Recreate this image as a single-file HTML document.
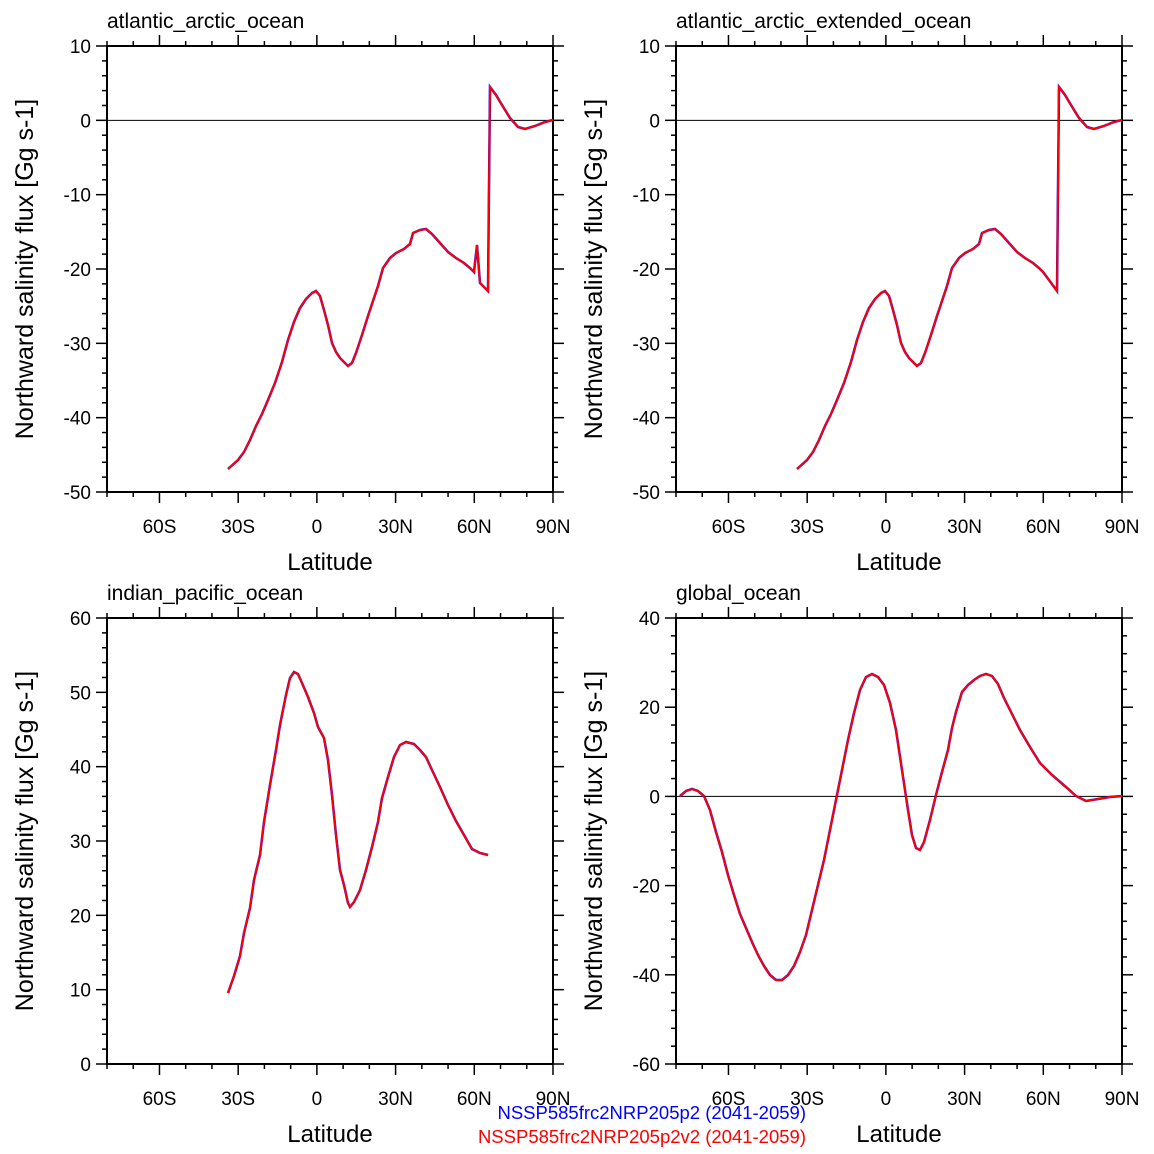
<!DOCTYPE html><html><head><style>body{margin:0;background:#fff}svg{display:block}text{font-family:"Liberation Sans",Arial,sans-serif}</style></head><body>
<svg id="s" width="1154" height="1154" xmlns="http://www.w3.org/2000/svg"></svg>
<script>
const s=document.getElementById('s');let h='';
function panel(ox,oy,title,ymin,ymax,ymaj,ymin_,zero,pts){
 const L=ox,R=ox+446,T=oy,B=oy+446;
 const X=l=>L+(l+80)*446/170, Y=v=>B-(v-ymin)*446/(ymax-ymin);
 h+=`<rect x="${L}" y="${T}" width="446" height="446" fill="none" stroke="#000" stroke-width="2"/>`;
 for(let l=-80;l<=90;l+=10){const x=X(l),mj=l%30==0;const t=mj?11:5;
  h+=`<line x1="${x}" y1="${B}" x2="${x}" y2="${B+t}" stroke="#000" stroke-width="1.5"/><line x1="${x}" y1="${T}" x2="${x}" y2="${T-t}" stroke="#000" stroke-width="1.5"/>`;
  if(mj){const lab=l==0?'0':(l<0?(-l)+'S':l+'N');h+=`<text x="${x}" y="${B+41}" font-size="19" text-anchor="middle">${lab}</text>`;}}
 for(let v=ymin;v<=ymax+1e-6;v+=ymin_){const y=Y(v),mj=Math.abs(((v-ymin)%ymaj))<1e-6;const t=mj?11:5;
  h+=`<line x1="${L}" y1="${y}" x2="${L-t}" y2="${y}" stroke="#000" stroke-width="1.5"/><line x1="${R}" y1="${y}" x2="${R+t}" y2="${y}" stroke="#000" stroke-width="1.5"/>`;
  if(mj)h+=`<text x="${L-16}" y="${y+7}" font-size="19" text-anchor="end">${v}</text>`;}
 if(zero)h+=`<line x1="${L}" y1="${Y(0)}" x2="${R}" y2="${Y(0)}" stroke="#000" stroke-width="1"/>`;
 h+=`<text x="${L}" y="${T-18}" font-size="21">${title}</text>`;
 h+=`<text x="${L+223}" y="${B+78}" font-size="24" text-anchor="middle">Latitude</text>`;
 h+=`<text transform="translate(${L-74},${T+223}) rotate(-90)" font-size="25" text-anchor="middle">Northward salinity flux [Gg s-1]</text>`;
 const p=pts.map(q=>(q[0]+ox-107)+','+(q[1]+oy-46)).join(' ');
 h+=`<polyline points="${p}" fill="none" stroke="#00f" stroke-width="2.5"/><polyline points="${p}" fill="none" stroke="#f00" stroke-width="2"/>`;
}
const a1=[[228,469],[238,460],[244,452],[250,440],[256,426],[262,414],[268,400],[275,383],[282,362],[288,340],[294,322],[300,308],[306,299],[312,293],[316,291],[320,296],[324,310],[328,325],[332,343],[336,352],[340,358],[344,362],[348,366],[352,363],[356,353],[362,335],[368,316],[374,298],[378,286],[383,268],[390,258],[396,253],[404,249],[410,244],[413,233],[420,230],[426,229],[432,234],[440,243],[448,252],[456,258],[464,263],[470,268],[474,272]];
const tail=[[488,291],[490,87],[496,95],[502,105],[510,118],[518,127],[525,129],[535,126],[545,122],[553,120]];
panel(107,46,'atlantic_arctic_ocean',-50,10,10,2,true,a1.concat([[477,245],[480,283]],tail));
panel(676,46,'atlantic_arctic_extended_ocean',-50,10,10,2,true,a1.concat([[480,280]],tail));
const b1=[[228,993],[234,976],[240,956],[244,933],[250,908],[254,880],[260,855],[264,822],[270,785],[276,750],[280,725],[286,695],[290,678],[294,672],[298,674],[302,683],[308,697],[314,713],[318,727],[324,738],[328,760],[332,795],[336,835],[340,870],[344,885],[348,903],[350,907],[354,902],[360,890],[366,870],[372,847],[378,822],[382,798],[388,777],[394,757],[400,745],[406,742],[414,744],[420,750],[426,757],[432,770],[440,787],[448,805],[456,821],[464,835],[472,849],[480,853],[488,855]].map(q=>[q[0],q[1]-572]);
panel(107,618,'indian_pacific_ocean',0,60,10,2,false,b1);
const b2=[[680,796],[686,791],[692,789],[698,791],[704,796],[710,810],[716,832],[722,852],[728,875],[734,895],[740,914],[746,928],[752,942],[758,955],[764,966],[770,975],[776,980],[782,980],[788,975],[794,966],[800,952],[806,935],[812,910],[818,885],[824,860],[830,830],[836,800],[842,770],[848,740],[854,713],[860,690],[866,677],[872,674],[878,677],[884,685],[890,703],[896,730],[902,770],[908,810],[912,835],[916,848],[920,850],[924,842],[930,820],[936,795],[942,772],[948,750],[952,728],[956,712],[962,692],[968,685],[974,680],[980,676],[986,674],[992,676],[998,684],[1004,698],[1012,714],[1020,730],[1030,747],[1040,763],[1052,775],[1066,787],[1076,796],[1086,801],[1098,799],[1110,797],[1122,796]].map(q=>[q[0]-569,q[1]-572]);
panel(676,618,'global_ocean',-60,40,20,4,true,b2);
h+=`<text x="806" y="1119" font-size="18.5" fill="#00f" text-anchor="end">NSSP585frc2NRP205p2 (2041-2059)</text>`;
h+=`<text x="806" y="1143" font-size="18.5" fill="#f00" text-anchor="end">NSSP585frc2NRP205p2v2 (2041-2059)</text>`;
s.innerHTML=h;
</script></body></html>
